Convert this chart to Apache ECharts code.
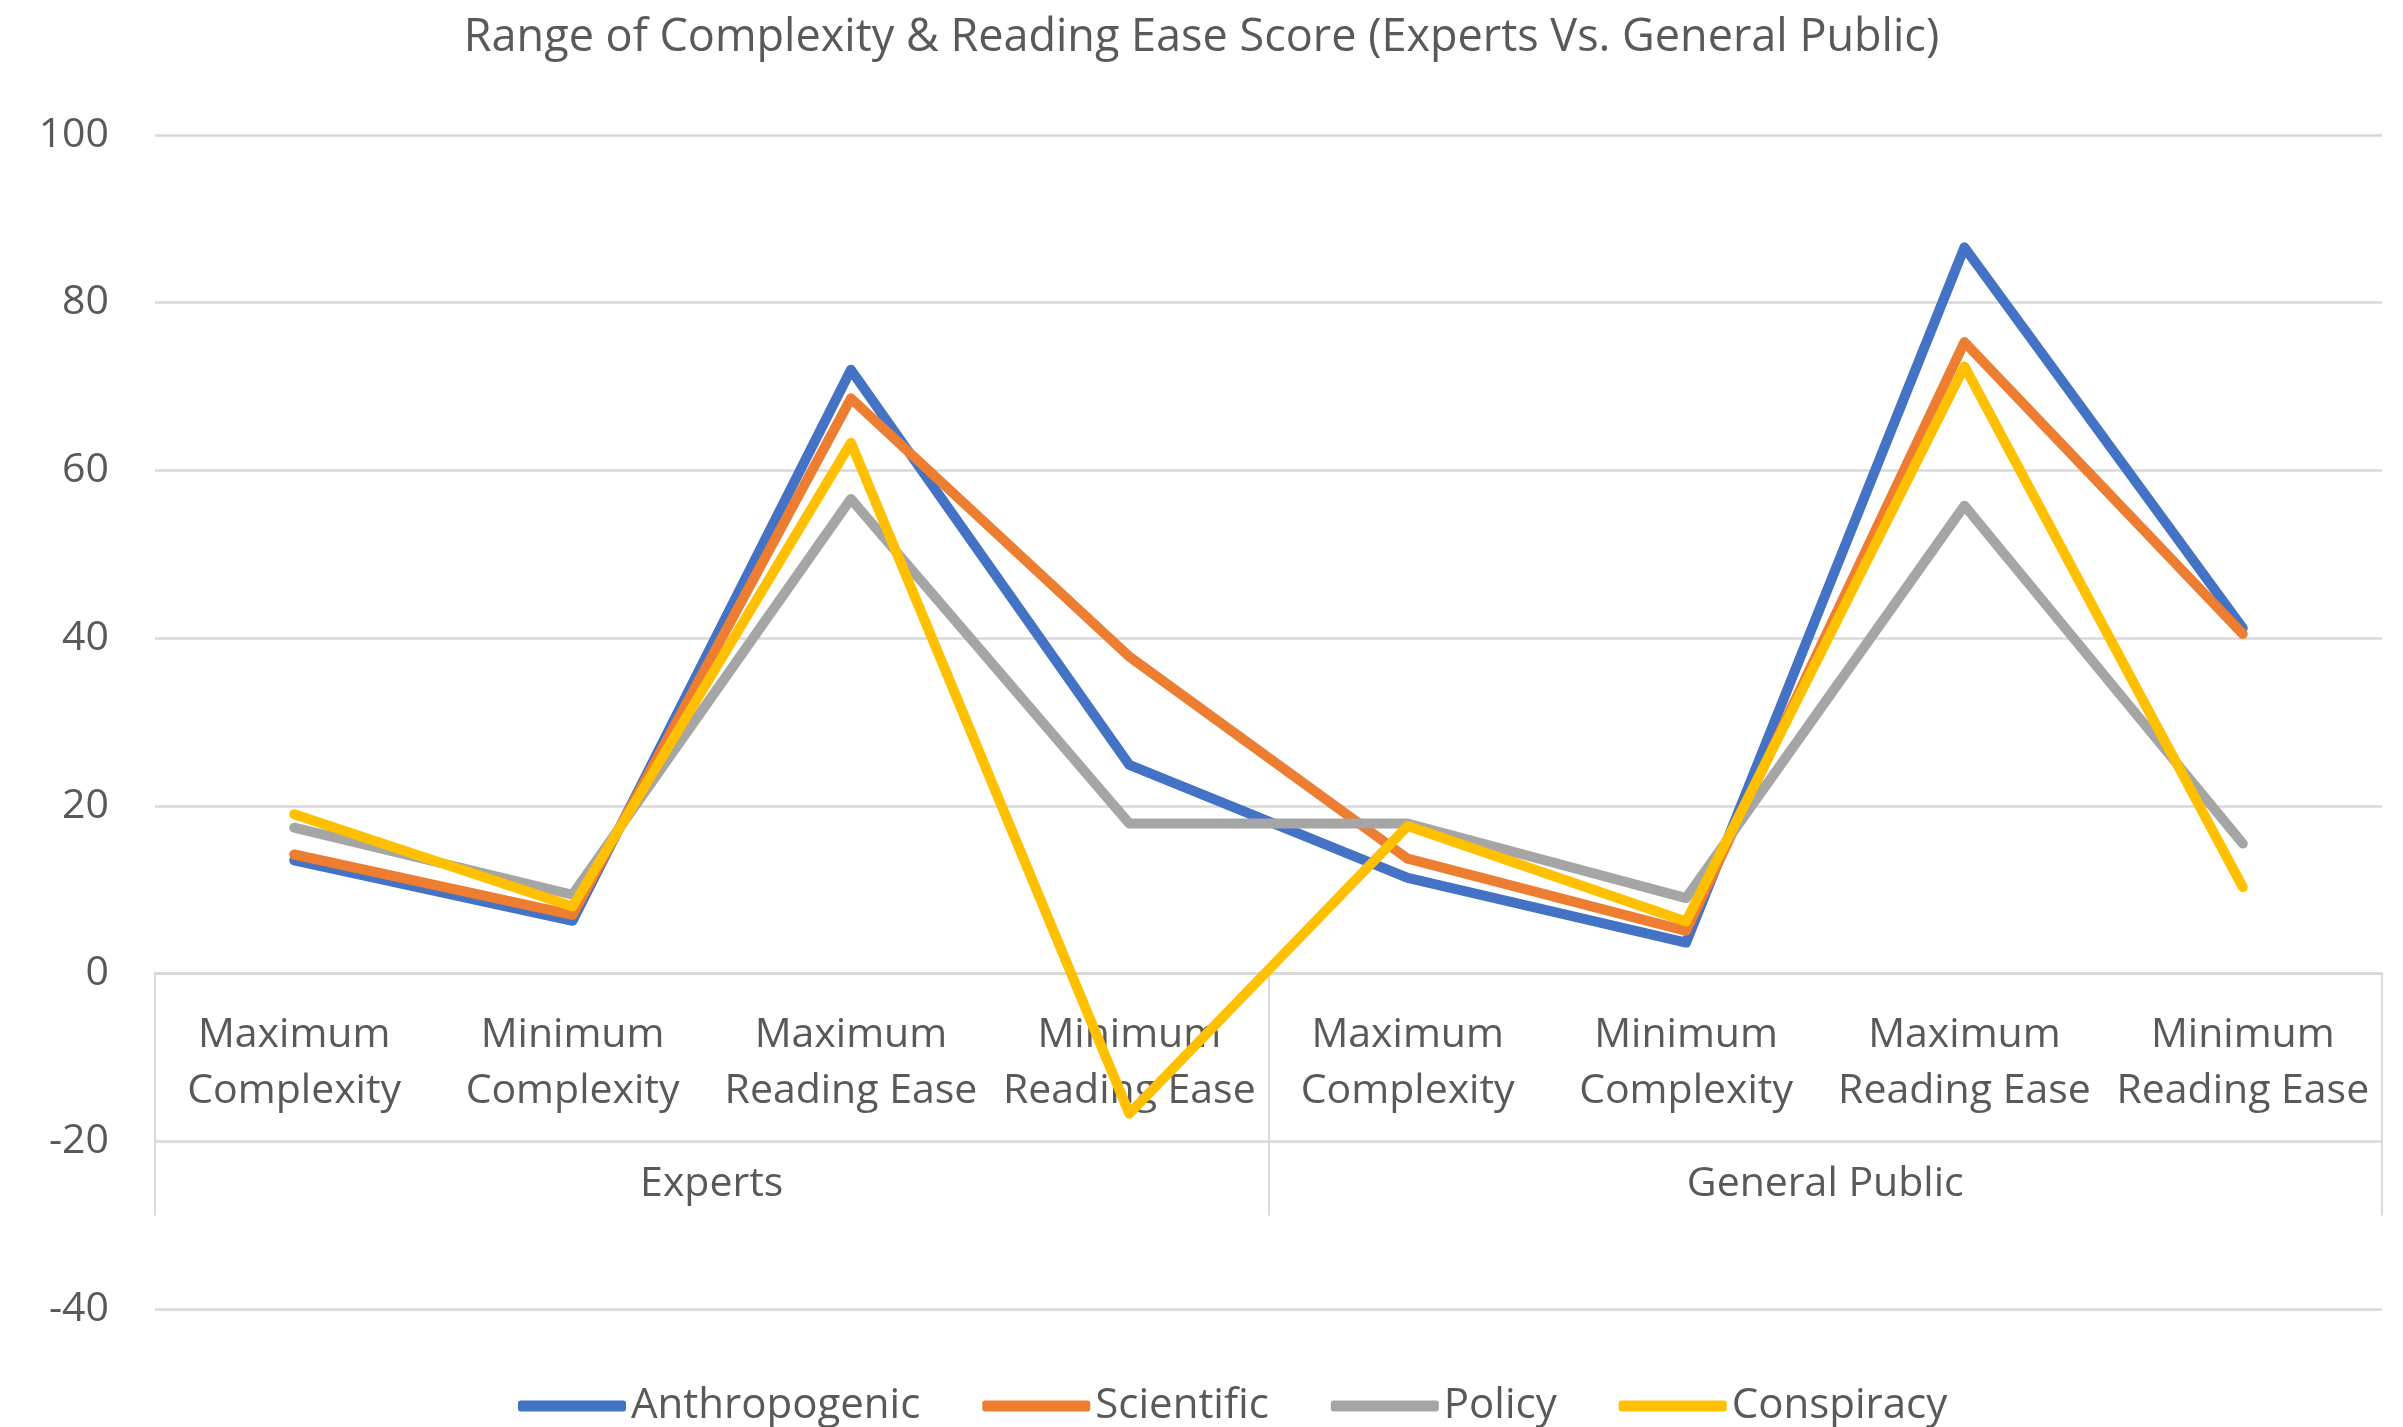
<!DOCTYPE html>
<html>
<head>
<meta charset="utf-8">
<script src="https://cdn.jsdelivr.net/npm/echarts@6/dist/echarts.min.js"></script>
<style>
    html, body { margin: 0; padding: 0; background: #fff; }
    #chart { width: 2403px; height: 1427px; }
</style>
</head>
<body>
<div id="chart"></div>
<script>
// ======================
// DATA
// ======================

const categories = [
    'Maximum\nComplexity', 'Minimum\nComplexity', 'Maximum\nReading Ease', 'Minimum\nReading Ease',
    'Maximum\nComplexity', 'Minimum\nComplexity', 'Maximum\nReading Ease', 'Minimum\nReading Ease'
];
const groups = ['Experts', 'General Public'];
const yTicks = { min: -40, max: 100, interval: 20 };

const seriesNames = ['Anthropogenic', 'Scientific', 'Policy', 'Conspiracy'];
const anthropogenic = [13.5, 6.3, 72.0, 24.9, 11.4, 3.7, 86.6, 41.2];
const scientific = [14.2, 7.0, 68.6, 37.8, 13.7, 5.1, 75.3, 40.5];
const policy = [17.4, 9.4, 56.6, 17.9, 17.9, 9.0, 55.8, 15.5];
const conspiracy = [19.0, 8.0, 63.3, -16.7, 17.6, 6.2, 72.4, 10.3];

// ======================
// STYLE
// ======================

const FONT = '"Open Sans", "Noto Sans", sans-serif';
const TEXT = '#595959';
const GRID = '#d9d9d9';
const colors = ['#4472C4', '#ED7D31', '#A5A5A5', '#FFC000'];

// grid box (px) - the category table sits on the zero line, not the grid bottom
const gridTop = 135;
const gridBottom = 118;
const plotHeight = 1427 - gridTop - gridBottom;
const zeroOffset = -(plotHeight * (0 - yTicks.min) / (yTicks.max - yTicks.min));

// ======================
// CHART
// ======================

const chart = echarts.init(document.getElementById('chart'), null, { renderer: 'canvas' });

function makeLine(name, data, color) {
    return {
        name: name,
        type: 'line',
        data: data,
        symbol: 'none',
        xAxisIndex: 0,
        lineStyle: { color: color, width: 10, cap: 'round', join: 'round' },
        itemStyle: { color: color },
        animation: false
    };
}

const option = {
    backgroundColor: '#fff',
    textStyle: { fontFamily: FONT },
    title: {
        text: 'Range of Complexity & Reading Ease Score (Experts Vs. General Public)',
        left: 'center',
        top: 11,
        textStyle: { fontFamily: FONT, fontSize: 45, fontWeight: 'normal', color: TEXT }
    },
    legend: {
        data: seriesNames,
        left: 513,
        top: 1380,
        icon: 'roundRect',
        itemWidth: 108,
        itemHeight: 11,
        itemGap: 62,
        textStyle: { fontFamily: FONT, fontSize: 42, color: TEXT }
    },
    grid: { left: 155, right: 21, top: gridTop, bottom: gridBottom, containLabel: false },
    xAxis: [
        {
            type: 'category',
            data: categories,
            position: 'bottom',
            offset: zeroOffset,
            boundaryGap: true,
            axisLine: { show: true, onZero: false, lineStyle: { color: GRID, width: 2.5 } },
            axisTick: { show: false },
            axisLabel: {
                interval: 0,
                margin: 34,
                fontFamily: FONT,
                fontSize: 41,
                lineHeight: 56,
                color: TEXT
            }
        },
        {
            type: 'category',
            data: groups,
            position: 'bottom',
            offset: zeroOffset,
            boundaryGap: true,
            axisLine: { show: true, onZero: false, lineStyle: { color: GRID, width: 2.5 } },
            axisTick: {
                show: true,
                interval: 0,
                length: 242,
                alignWithLabel: false,
                lineStyle: { color: GRID, width: 2 }
            },
            axisLabel: {
                interval: 0,
                margin: 190,
                fontFamily: FONT,
                fontSize: 41,
                color: TEXT
            }
        }
    ],
    yAxis: {
        type: 'value',
        min: yTicks.min,
        max: yTicks.max,
        interval: yTicks.interval,
        axisLine: { show: false },
        axisTick: { show: false },
        splitLine: { lineStyle: { color: GRID, width: 2.5 } },
        axisLabel: { margin: 46, fontFamily: FONT, fontSize: 41, color: TEXT }
    },
    series: [
        makeLine(seriesNames[0], anthropogenic, colors[0]),
        makeLine(seriesNames[1], scientific, colors[1]),
        makeLine(seriesNames[2], policy, colors[2]),
        makeLine(seriesNames[3], conspiracy, colors[3])
    ]
};

chart.setOption(option);
</script>
</body>
</html>
